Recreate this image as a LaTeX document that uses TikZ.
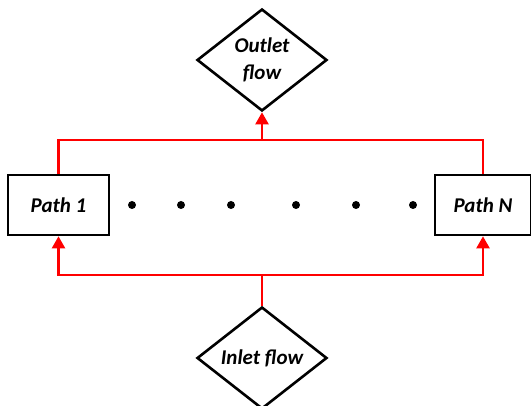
\documentclass[tikz,border=0pt]{standalone}
\usepackage{fontspec}
\setmainfont{Carlito}
\usetikzlibrary{shapes.geometric, arrows.meta, positioning}
\usetikzlibrary{calc}
\usepackage{xcolor}

\begin{document}
\begin{tikzpicture}[x=1pt, y=1pt,
		flowbox/.style = {draw, line width=2.6pt, inner sep=0pt, align=center,
			font=\fontsize{21}{27}\selectfont\bfseries\itshape},
		pathbox/.style = {flowbox, rectangle, minimum height=60pt},
		flowdiam/.style = {flowbox, diamond, minimum width=130pt, minimum height=102pt},
		redline/.style = {red, line width=2.2pt},
		redarrow/.style = {redline, -{Triangle[length=12pt, width=13pt]}}]
		\useasboundingbox (0,0) rectangle (531,406);
		\draw (262,346) node[flowdiam] (outlet) {Outlet\\flow}
		(58.5,201) node[pathbox, minimum width=101pt] (p1) {Path 1}
		(483,201) node[pathbox, minimum width=96pt] (pN) {Path N}
		(262,48) node[flowdiam] (inlet) {Inlet flow};
		\coordinate (top) at (262,266);
		\coordinate (bot) at (262,131);
		
		\foreach \x in {132,181,231,296,356,413}
			\fill (\x,201) circle (4);
		
		\draw[redline] (p1.north) |- (top) -| (pN.north);
		\draw[redarrow] (top) -- (outlet.south);
		\draw[redline] (inlet.north) -- (bot);
		\draw[redarrow] (bot) -| (p1.south);
		\draw[redarrow] (bot) -| (pN.south);
	\end{tikzpicture}
\end{document}
